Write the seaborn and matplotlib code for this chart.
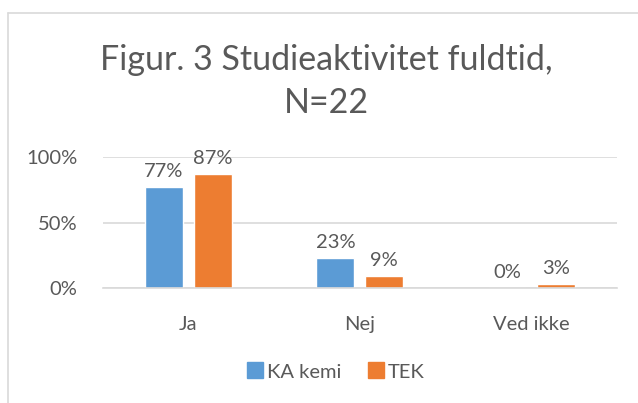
import matplotlib
matplotlib.use("Agg")
import matplotlib.pyplot as plt
import seaborn as sns
import pandas as pd
from matplotlib.lines import Line2D

# Data
categories = ["Ja", "Nej", "Ved ikke"]
series = ["KA kemi", "TEK"]
ka_kemi = [0.77, 0.23, 0.00]
tek = [0.87, 0.09, 0.03]
colors = ["#5B9BD5", "#ED7D31"]

df = pd.DataFrame({
    "svar": categories * 2,
    "gruppe": [series[0]] * 3 + [series[1]] * 3,
    "andel": ka_kemi + tek,
})

sns.set_style("white")
plt.rcParams["font.family"] = ["Lato", "DejaVu Sans"]
txt = "#595959"

fig = plt.figure(figsize=(6.38, 4.03), dpi=100)
ax = fig.add_axes([0.161, 0.285, 0.806, 0.325])

sns.barplot(data=df, x="svar", y="andel", hue="gruppe", palette=colors,
            saturation=1, width=0.57, gap=0.22, ax=ax, legend=True)

ax.set_ylim(0, 1)
ax.set_xlim(-0.5, 2.5)
ax.set_yticks([0, 0.5, 1.0])
ax.set_yticklabels(["0%", "50%", "100%"])
ax.yaxis.grid(True, color="#d9d9d9", linewidth=1.2)
ax.set_axisbelow(True)
for s in ["top", "right", "left"]:
    ax.spines[s].set_visible(False)
ax.spines["bottom"].set_color("#d9d9d9")
ax.spines["bottom"].set_linewidth(1.2)
ax.tick_params(axis="both", length=0, labelsize=14.5, colors=txt)
ax.tick_params(axis="y", pad=18)
ax.tick_params(axis="x", pad=20)
ax.set_xlabel("")
ax.set_ylabel("")

for cont in ax.containers:
    ax.bar_label(cont, labels=[f"{v*100:.0f}%" for v in cont.datavalues],
                 padding=5, fontsize=14.5, color=txt, clip_on=False)

handles = [Line2D([0], [0], marker="s", linestyle="", markersize=11,
                  markerfacecolor=c, markeredgecolor=c) for c in colors]
ax.legend_.remove()
fig.legend(handles, series, loc="center", bbox_to_anchor=(0.525, 0.077),
           ncol=2, frameon=False, fontsize=14.5, labelcolor=txt,
           handletextpad=0.1, columnspacing=1.2, handlelength=1.0)

fig.text(0.512, 0.851, "Figur. 3 Studieaktivitet fuldtid,", ha="center",
         va="center", fontsize=24.5, color=txt)
fig.text(0.512, 0.745, "N=22", ha="center", va="center", fontsize=24.5, color=txt)

# chart border
fig.add_artist(Line2D([8 / 638, 1], [1 - 13 / 403, 1 - 13 / 403],
                      transform=fig.transFigure, color="#d9d9d9", linewidth=1.2))
fig.add_artist(Line2D([8 / 638, 8 / 638], [0, 1 - 13 / 403],
                      transform=fig.transFigure, color="#d9d9d9", linewidth=1.2))

fig.savefig("out.png", dpi=100, facecolor="white")
